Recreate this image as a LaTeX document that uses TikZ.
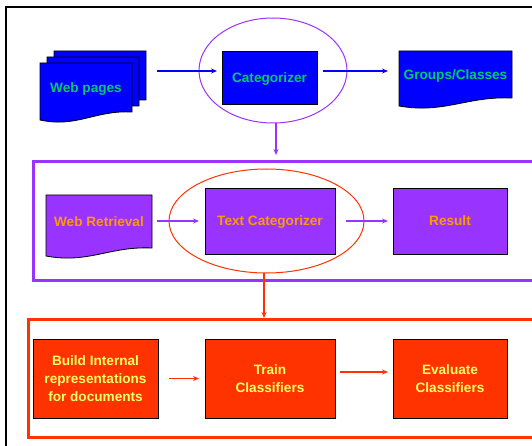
\documentclass[tikz,border=0pt]{standalone}
\usepackage{fontspec}
\setmainfont{Liberation Sans}
\usetikzlibrary{positioning}
\usetikzlibrary{arrows.meta,shapes.geometric}
\usetikzlibrary{calc,backgrounds}

\definecolor{pageblue}{HTML}{0000FF}
\definecolor{pagegreen}{HTML}{00CC66}
\definecolor{retrpurple}{HTML}{9933FF}
\definecolor{retrorange}{HTML}{FF9900}
\definecolor{clsred}{HTML}{FF3300}
\definecolor{clsyellow}{HTML}{FFFF66}

% document sheet with a wavy lower edge, drawn behind the node text
\newcommand\wavydoc[2]{%
  \begin{pgfonlayer}{background}
    \filldraw[draw=black, line width=0.8pt, fill=#2] (#1.north west) -- (#1.north east) -- (#1.south east)
      .. controls ($(#1.south east)!0.4!(#1.south west)+(0,2pt)$)
      and ($(#1.south east)!0.6!(#1.south west)+(0,-16pt)$)
      .. ([yshift=-8pt]#1.south west) -- cycle;
  \end{pgfonlayer}}

\begin{document}
\begin{tikzpicture}[x=1pt, y=-1pt,
  every node/.style={font=\fontsize{13.6}{18.3}\selectfont\bfseries, inner sep=0pt, outer sep=0pt, align=center, text depth=0pt},
  stepbox/.style={draw=black, line width=0.8pt, fill=#1},
  ring/.style={ellipse, draw=#1, line width=1pt},
  bandframe/.style={draw=#1, line width=3pt},
  flow/.style={draw=#1, line width=1.2pt, -{Stealth[length=6pt,width=5pt]}}]

  \useasboundingbox (0,0) rectangle (532,446);
  \begin{pgfonlayer}{background}
    \fill[white] (0,0) rectangle (532,446);
  \end{pgfonlayer}
  \clip (0,0) rectangle (532,446);
  \draw[line width=2.5pt] (6,7) rectangle (600,500);

  % bands
  \node[bandframe=retrpurple, minimum width=512pt, minimum height=118pt] (retrframe) at (289,221) {};
  \node[bandframe=clsred, minimum width=517pt, minimum height=118pt] (clsframe) at (286.5,378) {};

  % top row
  \foreach \s/\nm in {14/pgback, 7/pgmid} {
    \node[minimum width=92pt, minimum height=49pt] (\nm) at (86+\s, 87.5-\s*6/7) {};
    \wavydoc{\nm}{pageblue}
  }
  \node[minimum width=92pt, minimum height=49pt, text=pagegreen] (pages) at (86,87.5) {Web pages};
  \wavydoc{pages}{pageblue}
  \node[stepbox=pageblue, minimum width=95pt, minimum height=53pt, text=pagegreen] (cat) at (269.5,77.5) {Categorizer};
  \node[minimum width=113pt, minimum height=47pt, text=pagegreen] (groups) at (455.5,74.5) {Groups/Classes};
  \wavydoc{groups}{pageblue}
  \node[ring=retrpurple, minimum width=148pt, minimum height=105pt] (catring) at (273,70.5) {};

  \draw[flow=pageblue] ([xshift=11pt,yshift=4.5pt]pgback.east) -- ([xshift=-5pt,yshift=6.5pt]cat.west);
  \draw[flow=pageblue] ([xshift=6pt,yshift=6.5pt]cat.east) -- ([xshift=-11pt,yshift=3.5pt]groups.west);
  \draw[flow=retrpurple, shorten >=7pt] ([xshift=3pt]catring.south) -- ([xshift=3pt]catring.south |- retrframe.north);

  % middle row
  \node[minimum width=106pt, minimum height=53pt, text=retrorange] (webret) at (99,221.5) {Web Retrieval};
  \wavydoc{webret}{retrpurple}
  \node[stepbox=retrpurple, minimum width=130pt, minimum height=66pt, text=retrorange] (tcat) at (270,221) {Text Categorizer};
  \node[stepbox=retrpurple, minimum width=114pt, minimum height=66pt, text=retrorange] (result) at (450,221) {Result};
  \node[ring=clsred, minimum width=195pt, minimum height=104pt] (tcatring) at (266.5,221) {};

  \draw[flow=retrpurple] ([xshift=5pt,yshift=0.5pt]webret.east) -- ([xshift=-6pt]tcat.west);
  \draw[flow=retrpurple] ([xshift=11pt]tcat.east) -- ([xshift=-5pt]result.west);
  \draw[flow=clsred, shorten >=1pt] ([xshift=-2.5pt]tcatring.south) -- ([xshift=-2.5pt]tcatring.south |- clsframe.north);

  % bottom row
  \node[stepbox=clsred, minimum width=125pt, minimum height=79pt, text=clsyellow] (build) at (95.5,378.5) {Build Internal\\representations\\for documents};
  \node[stepbox=clsred, minimum width=130pt, minimum height=79pt, text=clsyellow] (train) at (270,378.5) {Train\\Classifiers};
  \node[stepbox=clsred, minimum width=114pt, minimum height=79pt, text=clsyellow] (evalc) at (450,378.5) {Evaluate\\Classifiers};

  \draw[flow=clsred] ([xshift=11pt]build.east) -- ([xshift=-6pt]train.west);
  \draw[flow=clsred] ([xshift=5pt,yshift=6.5pt]train.east) -- ([xshift=-5pt,yshift=6.5pt]evalc.west);
\end{tikzpicture}
\end{document}
